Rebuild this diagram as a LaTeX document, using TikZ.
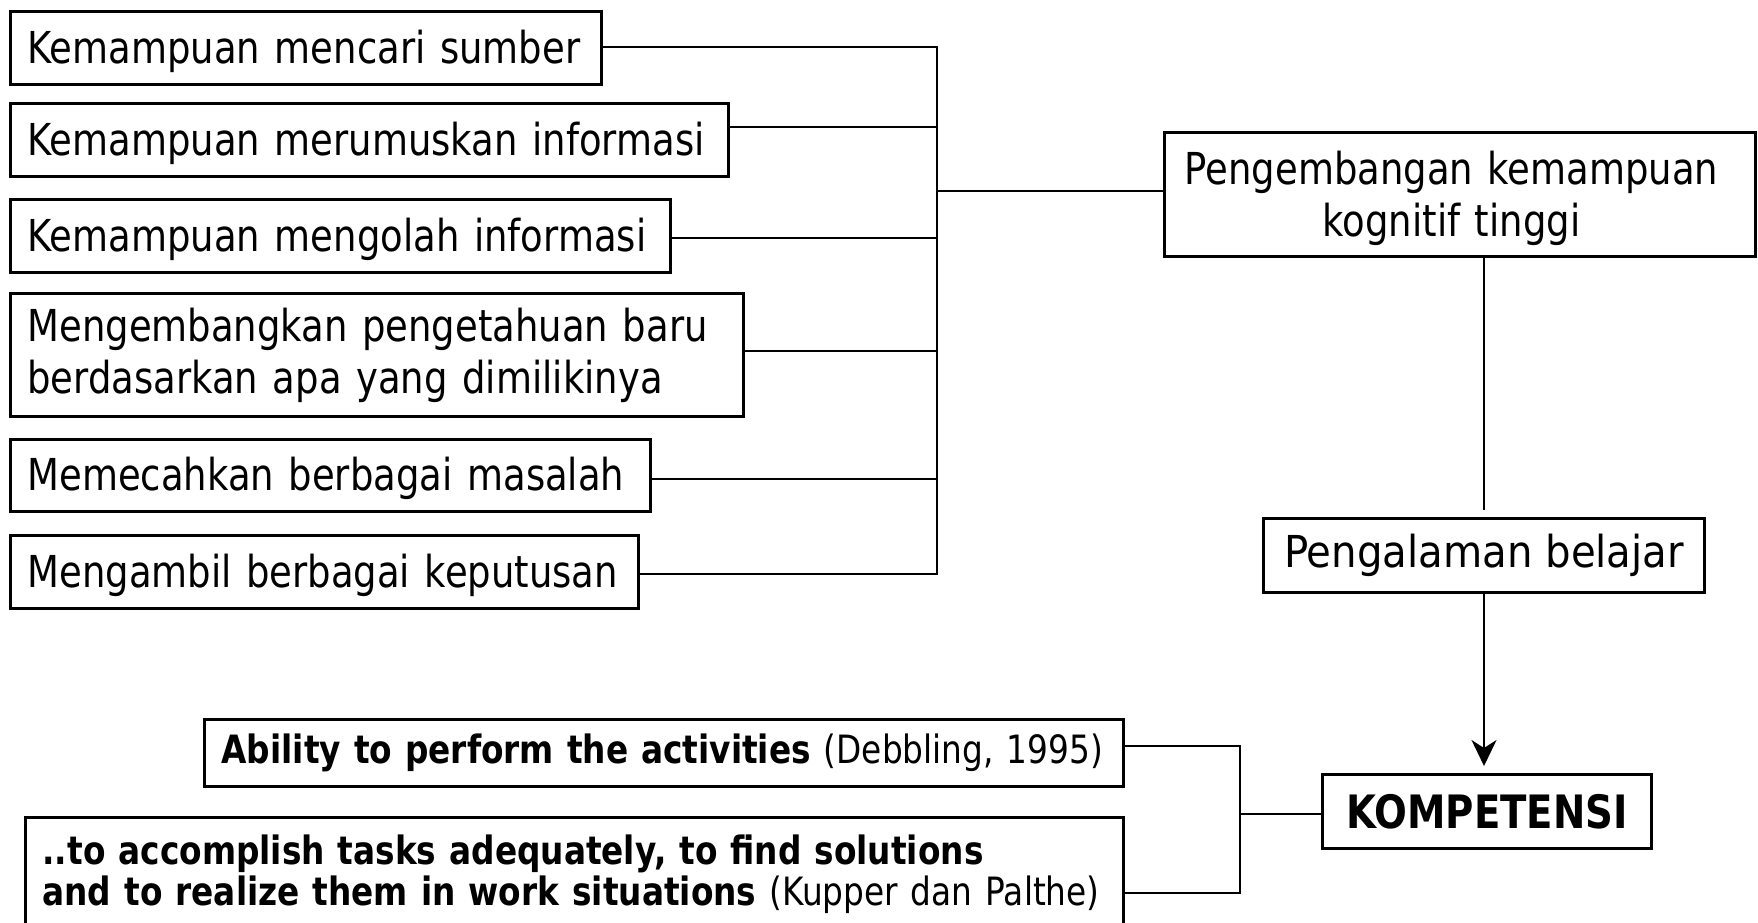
\documentclass[tikz,border=0pt]{standalone}
\usepackage{fontspec}
\setmainfont{DejaVu Sans}[FakeStretch=0.84]
\newfontfamily\widefont{DejaVu Sans}[FakeStretch=0.915]
\usetikzlibrary{arrows.meta}
\begin{document}
\begin{tikzpicture}[x=1pt,y=-1pt,
  box/.style={draw, line width=3pt, inner xsep=17pt, inner ysep=0pt, anchor=north west},
  big/.style={font=\fontsize{44}{52}\selectfont},
  small/.style={font=\fontsize{39}{41}\selectfont},
  lbox/.style={box, big, align=left},
  onel/.style={lbox, text height=39pt, text depth=9pt},
  cbox/.style={box, big, align=center},
  wire/.style={line width=2.5pt},
  stem/.style={line width=2.2pt}]
\useasboundingbox (0,0) rectangle (1758,922);
\clip (0,0) rectangle (1758,922);

% left column of abilities
\node[onel, text width=557pt, minimum height=73pt] (b1) at (9,10) {\mbox{Kemampuan mencari sumber}};
\node[onel, text width=684pt, minimum height=73pt] (b2) at (9,102) {\mbox{Kemampuan merumuskan informasi}};
\node[onel, text width=626pt, minimum height=73pt] (b3) at (9,198) {\mbox{Kemampuan mengolah informasi}};
\node[lbox, text width=699pt, minimum height=123pt] (b4) at (9,292) {\mbox{Mengembangkan pengetahuan baru}\\\mbox{berdasarkan apa yang dimilikinya}};
\node[onel, text width=606pt, minimum height=72pt] (b5) at (9,438) {\mbox{Memecahkan berbagai masalah}};
\node[onel, text width=594pt, minimum height=73pt] (b6) at (9,534) {\mbox{Mengambil berbagai keputusan}};

% right column
\node[cbox, text width=557pt, text height=42pt, minimum height=124pt] (p) at (1163,131)
  {\hspace*{-17pt}Pengembangan kemampuan\\\hspace*{-17pt}kognitif tinggi};
\node[cbox, font=\widefont\fontsize{44}{52}\selectfont, minimum width=441pt, minimum height=74pt] (pb) at (1262,517) {Pengalaman belajar};
\node[box, font=\fontsize{46}{46}\selectfont\bfseries, minimum width=329pt, minimum height=74pt] (k) at (1321,773) {KOMPETENSI};

% definitions
\node[box, small, align=left, text width=885pt, minimum height=67pt] (a) at (203,718)
  {\mbox{\textbf{Ability to perform the activities} (Debbling, 1995)}};
\node[box, small, align=left, text width=1064pt, minimum height=114pt] (kp) at (24,816)
  {\mbox{\textbf{..to accomplish tasks adequately, to find solutions}}\\
   \mbox{\textbf{and to realize them in work situations} (Kupper dan Palthe)}};

% upper bus
\coordinate (j1) at (937,47);
\coordinate (j2) at (937,127);
\coordinate (j3) at (937,238);
\coordinate (j4) at (937,351);
\coordinate (j5) at (937,479);
\coordinate (j6) at (937,574);
\coordinate (jp) at (937,191);
\draw[wire] (b1.east |- j1) -- (j1) -- (j6) -- (b6.east |- j6);
\draw[wire] (b2.east |- j2) -- (j2);
\draw[wire] (b3.east |- j3) -- (j3);
\draw[wire] (b4.east |- j4) -- (j4);
\draw[wire] (b5.east |- j5) -- (j5);
\draw[wire] (jp) -- (p.west |- jp);

% vertical chain
\draw[stem, shorten >=7pt] (p.south -| pb.north) -- (pb.north);
\draw[stem, shorten >=7pt, -{Stealth[length=26pt, width=25pt, inset=8pt]}] (pb.south) -- (k.north -| pb.south);

% lower bus
\coordinate (ja) at (1240,746);
\coordinate (jk) at (1240,814);
\coordinate (jq) at (1240,893);
\draw[wire] (a.east |- ja) -- (ja) -- (jq) -- (kp.east |- jq);
\draw[wire] (jk) -- (k.west |- jk);
\end{tikzpicture}
\end{document}
